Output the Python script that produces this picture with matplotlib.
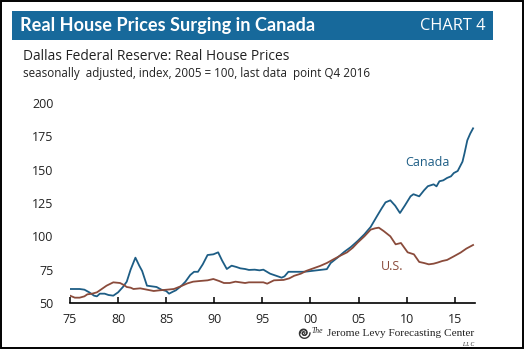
import matplotlib
matplotlib.use("Agg")
import matplotlib.pyplot as plt
from matplotlib.patches import Rectangle
import numpy as np

W, H = 526, 350

canada_years = [1975.0, 1975.5, 1976.0, 1976.5, 1977.0, 1977.5, 1977.8, 1978.1, 1978.6, 1979.0,
                1979.5, 1980.0, 1980.5, 1980.9, 1981.3, 1981.8, 1982.2, 1982.5, 1983.0, 1983.5,
                1984.0, 1984.5, 1985.0, 1985.3, 1985.7, 1986.0, 1986.6, 1987.0, 1987.5, 1987.9,
                1988.3, 1988.8, 1989.3, 1989.9, 1990.4, 1990.8, 1991.3, 1991.8, 1992.3, 1992.7,
                1993.2, 1993.6, 1994.2, 1994.7, 1995.1, 1995.8, 1996.4, 1997.0, 1997.3, 1997.7,
                1998.5, 1999.2, 1999.6, 2000.3, 2001.0, 2001.7, 2002.1, 2002.8, 2003.5, 2004.2,
                2004.9, 2005.6, 2006.25, 2006.9, 2007.4, 2007.8, 2008.3, 2008.8, 2009.3, 2009.8,
                2010.4, 2010.7, 2011.3, 2011.8, 2012.2, 2012.8, 2013.1, 2013.4, 2013.8, 2014.2,
                2014.6, 2014.9, 2015.3, 2015.8, 2016.0, 2016.3, 2016.6, 2016.9]
canada_values = [60.5, 60.5, 60.5, 60.0, 58.0, 55.5, 55.0, 57.0, 57.0, 56.0,
                 55.5, 58.0, 62.0, 66.0, 75.0, 84.0, 78.0, 74.0, 63.0, 62.5,
                 62.0, 60.0, 59.0, 57.0, 58.5, 59.5, 63.0, 66.0, 71.0, 73.4,
                 73.4, 79.0, 86.0, 86.5, 88.0, 82.0, 75.5, 78.0, 77.0, 76.0,
                 75.5, 74.8, 75.0, 74.5, 75.0, 72.0, 70.5, 69.0, 70.0, 73.4,
                 73.4, 73.4, 73.6, 74.2, 74.8, 75.4, 80.0, 84.0, 88.3, 92.0,
                 96.5, 101.5, 107.0, 115.0, 121.0, 125.5, 127.0, 123.0, 117.5, 123.0,
                 130.0, 131.6, 130.0, 134.5, 137.6, 139.0, 137.5, 141.3, 142.0, 143.8,
                 145.0, 147.5, 149.0, 156.0, 162.0, 172.0, 177.0, 181.0]

us_years = [1975.0, 1975.5, 1976.0, 1976.5, 1976.8, 1977.3, 1977.8, 1978.3, 1978.8, 1979.5,
            1980.2, 1980.6, 1980.9, 1981.3, 1981.6, 1982.3, 1983.0, 1983.7, 1984.3, 1985.1,
            1985.8, 1986.5, 1987.2, 1987.8, 1988.5, 1989.3, 1989.9, 1990.5, 1991.0, 1991.6,
            1992.2, 1992.7, 1993.2, 1993.6, 1994.4, 1995.1, 1995.5, 1996.2, 1997.2, 1997.8,
            1998.3, 1999.0, 1999.6, 2000.3, 2001.0, 2001.7, 2002.4, 2003.1, 2003.8, 2004.4,
            2004.9, 2005.6, 2006.25, 2006.7, 2007.1, 2007.6, 2008.3, 2008.85, 2009.4, 2009.8,
            2010.1, 2010.75, 2011.3, 2011.8, 2012.3, 2012.8, 2013.2, 2013.7, 2014.2, 2014.9,
            2015.6, 2016.2, 2016.9]
us_values = [55.5, 54.0, 54.0, 55.0, 56.5, 57.0, 58.0, 60.5, 63.0, 65.5,
             65.0, 63.5, 62.0, 61.5, 60.5, 61.0, 60.0, 59.0, 59.5, 60.0,
             60.5, 62.5, 64.7, 66.0, 66.5, 67.0, 68.0, 66.5, 65.0, 65.0,
             66.0, 65.5, 65.0, 65.5, 65.5, 65.5, 64.5, 67.0, 67.3, 68.5,
             70.4, 72.0, 74.2, 76.0, 77.8, 80.0, 82.8, 85.5, 88.0, 91.5,
             95.3, 100.0, 105.0, 106.0, 106.5, 104.0, 100.0, 94.0, 95.0, 91.0,
             88.0, 86.5, 80.8, 80.0, 79.0, 79.5, 80.3, 81.5, 82.3, 85.0,
             87.8, 90.8, 93.5]

x_ticks = [1975, 1980, 1985, 1990, 1995, 2000, 2005, 2010, 2015]
x_tick_labels = ["75", "80", "85", "90", "95", "00", "05", "10", "15"]
y_ticks = [50, 75, 100, 125, 150, 175, 200]

BLUE_BAR = "#17699b"
CANADA = "#1d5d85"
US = "#8a4b3b"
TXT = "#222222"

plt.rcParams['font.family'] = ['Open Sans', 'DejaVu Sans']

fig = plt.figure(figsize=(W / 100, H / 100), dpi=100)

def fx(px):
    return px / W

def fy(py):
    return 1 - py / H

# outer border
fig.patches.append(Rectangle((fx(1), fy(348)), fx(522), 347 / H, transform=fig.transFigure,
                             fill=False, edgecolor="black", linewidth=1.4))
# title bar
fig.patches.append(Rectangle((fx(12), fy(40)), fx(481), 29 / H, transform=fig.transFigure,
                             facecolor=BLUE_BAR, edgecolor="none"))
fig.text(fx(20), fy(25.5), "Real House Prices Surging in Canada", color="white",
         family=["Lato", "DejaVu Sans"], fontsize=13.1, fontweight="bold", va="center", ha="left")
fig.text(fx(486), fy(25.5), "CHART 4", color="white", fontsize=11.8,
         va="center", ha="right")
fig.text(fx(23), fy(56), "Dallas Federal Reserve: Real House Prices", color=TXT,
         fontsize=9.9, va="center", ha="left")
fig.text(fx(23), fy(74), "seasonally  adjusted, index, 2005 = 100, last data  point Q4 2016",
         color=TXT, fontsize=8.35, va="center", ha="left")

# axes
ax = fig.add_axes([fx(70), fy(303), fx(405), (303 - 103) / H])
ax.plot(canada_years, canada_values, color=CANADA, lw=1.3, solid_joinstyle="round")
ax.plot(us_years, us_values, color=US, lw=1.3, solid_joinstyle="round")
ax.set_xlim(1975, 2017.1)
ax.set_ylim(50, 200)
for s in ["top", "right", "left"]:
    ax.spines[s].set_visible(False)
ax.spines["bottom"].set_linewidth(1.2)
ax.spines["bottom"].set_color("black")
ax.set_xticks(x_ticks)
ax.set_xticklabels(x_tick_labels)
ax.set_yticks(y_ticks)
ax.tick_params(axis="x", direction="in", length=4, width=1.1, pad=7, labelsize=9, labelcolor=TXT)
ax.tick_params(axis="y", length=0, pad=12, labelsize=9, labelcolor=TXT)
ax.patch.set_alpha(0)

ax.text(2012.2, 155, "Canada", color=CANADA, fontsize=9, ha="center", va="center")
ax.text(2008.5, 77, "U.S.", color=US, fontsize=9, ha="center", va="center")

# logo
fig.text(fx(474), fy(333), "Jerome Levy Forecasting Center", color="#222222",
         family="Liberation Serif", fontsize=8.1, ha="right", va="center")
fig.text(fx(323), fy(331), "The", color="#222222", family="Liberation Serif",
         style="italic", fontsize=5.5, ha="right", va="center")
fig.text(fx(468), fy(344), "L L C", color="#222222", family="Liberation Serif",
         style="italic", fontsize=4, ha="center", va="center")
t = np.linspace(0, 3.2 * np.pi, 80)
r = 6 * (1 - t / (4 * np.pi))
fig.lines.append(plt.Line2D(fx(304 + r * np.cos(t)), fy(333 + r * np.sin(t)),
                            transform=fig.transFigure, color="#333333", lw=1.0))
t2 = t + np.pi
fig.lines.append(plt.Line2D(fx(304 + 0.6 * r * np.cos(t2)), fy(333 + 0.6 * r * np.sin(t2)),
                            transform=fig.transFigure, color="#333333", lw=0.8))

fig.savefig("out.png", dpi=100)
